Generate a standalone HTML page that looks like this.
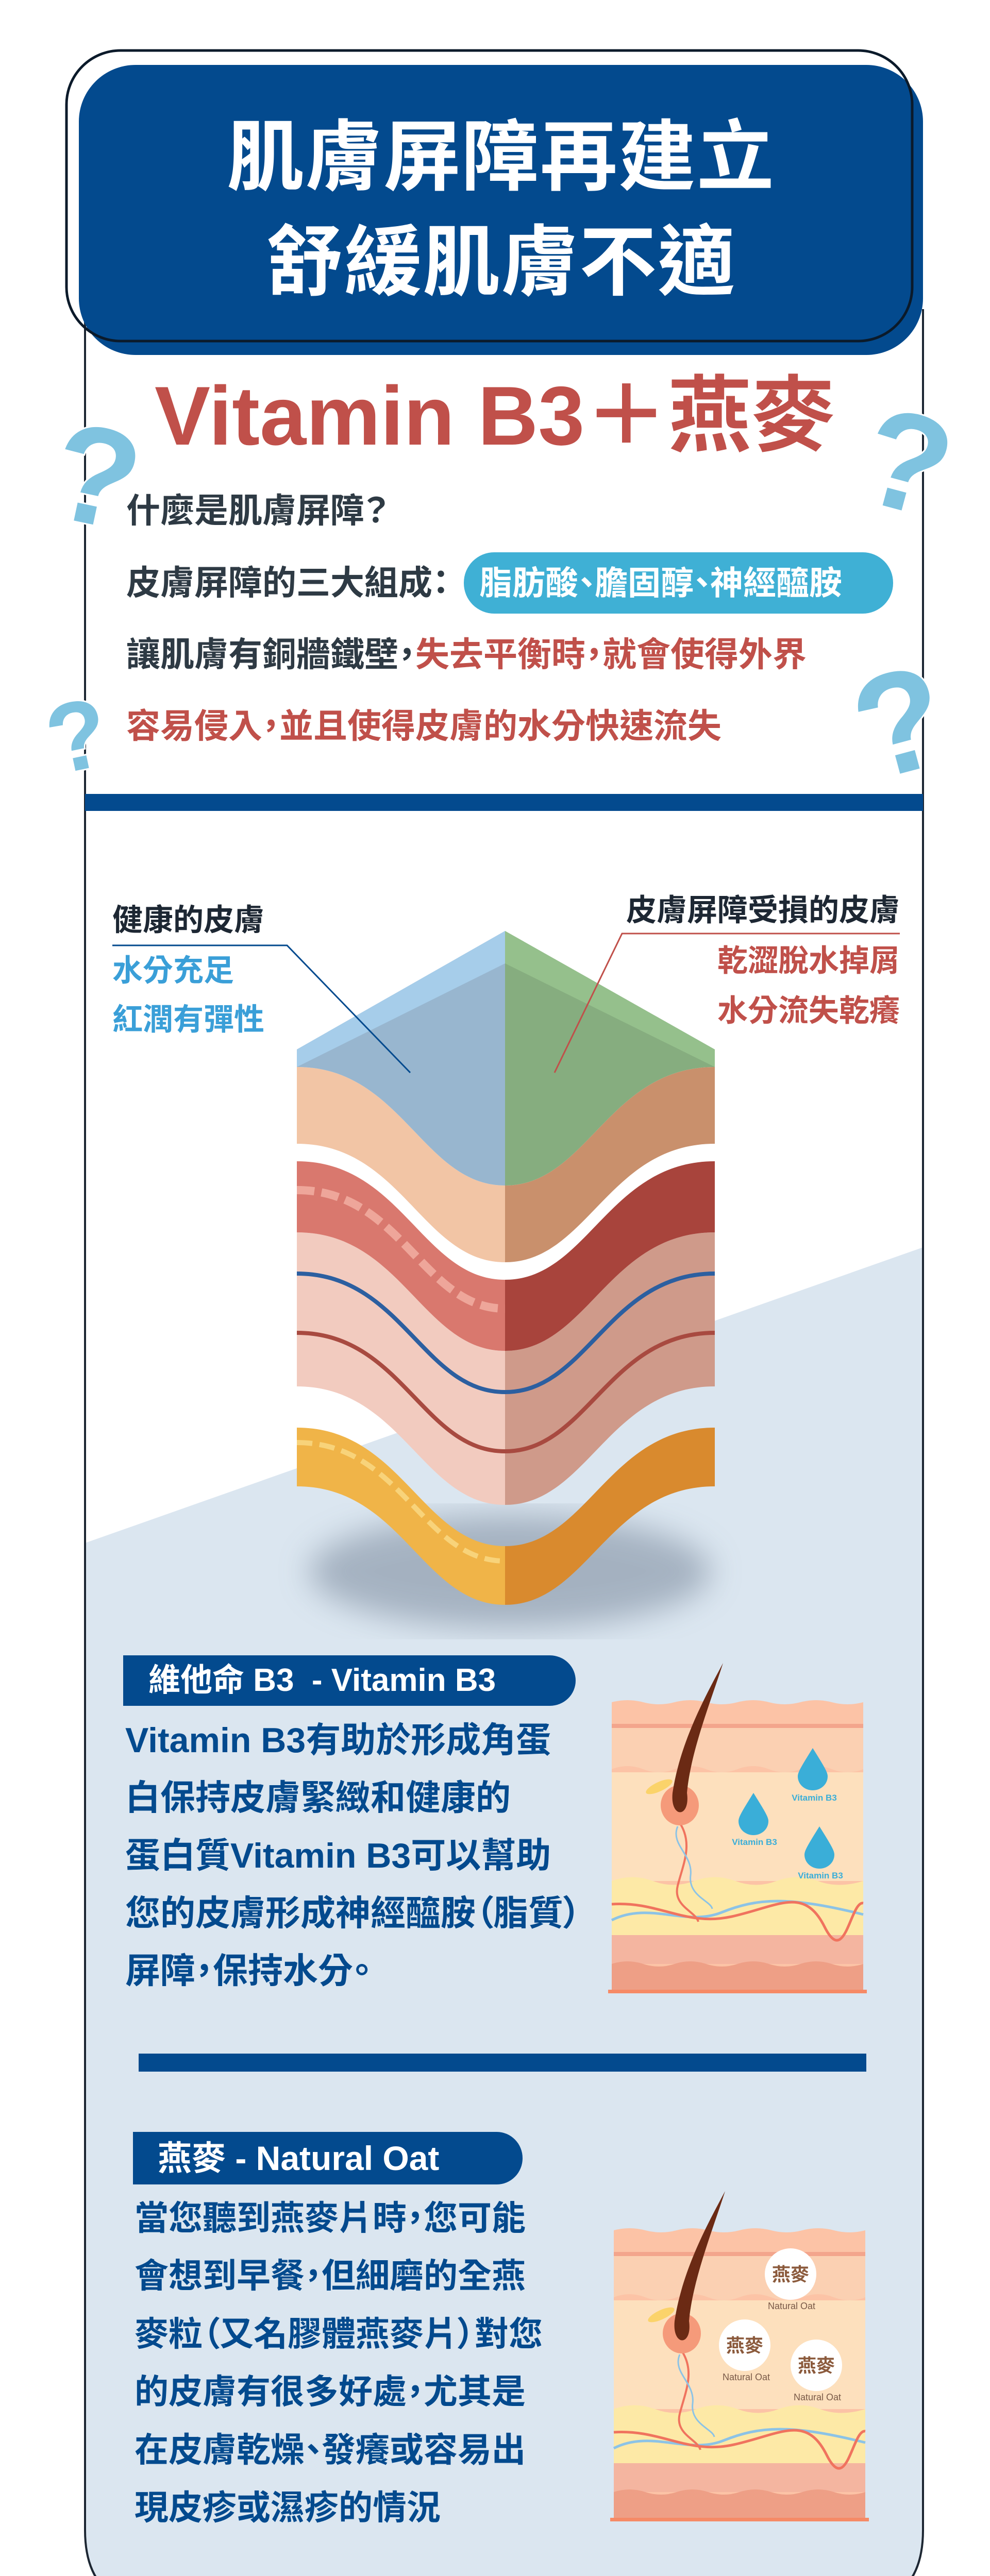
<!DOCTYPE html>
<html><head><meta charset="utf-8">
<style>
html{margin:0;padding:0;width:1921px;height:5162px;overflow:hidden;background:#fff;}
body{margin:0;padding:0;background:#fff;width:1921px;height:5162px;position:relative;overflow:hidden;font-family:"Liberation Sans","Noto Sans CJK TC",sans-serif;}
.t{position:absolute;white-space:nowrap;font-weight:bold;font-feature-settings:"palt";}
svg{position:absolute;left:0;top:0;}
</style></head><body>
<svg width="1921" height="5162" viewBox="0 0 1921 5162">
<defs>
<clipPath id="card"><path d="M165,600 L165,4911 Q165,5061 315,5061 L1641,5061 Q1791,5061 1791,4911 L1791,600 Z"/></clipPath>
<clipPath id="lh"><rect x="560" y="1700" width="420" height="1500"/></clipPath>
<clipPath id="rh"><rect x="980" y="1700" width="420" height="1500"/></clipPath>
<clipPath id="box"><rect x="1180" y="3280" width="502" height="600"/></clipPath>
<filter id="bl"><feGaussianBlur stdDeviation="30"/></filter>
<g id="skin">
 <g clip-path="url(#box)">
 <path d="M1187,3304 q30.5,-8 61,0 t61,0 t61,0 t61,0 t61,0 t61,0 t61,0 t61,0 L1675,3868 L1187,3868 Z" fill="#fcc3a6"/>
 <rect x="1187" y="3346" width="488" height="8" fill="#f3a58c"/>
 <path d="M1187,3354 L1675,3354 L1675,3434 q-30.5,12 -61,0 t-61,0 t-61,0 t-61,0 t-61,0 t-61,0 t-61,0 t-61,0 Z" fill="#fbd0b2"/>
 <rect x="1187" y="3440" width="488" height="211" fill="#fde0bd"/>
 <path d="M1187,3651 q40,-15 80,0 t80,0 t80,0 t80,0 t80,0 t88,0 L1675,3756 L1187,3756 Z" fill="#fde9a6"/>
 <rect x="1187" y="3756" width="488" height="56" fill="#f4b5a0"/>
 <path d="M1187,3812 q30.5,-10 61,0 t61,0 t61,0 t61,0 t61,0 t61,0 t61,0 t61,0 L1675,3862 L1187,3862 Z" fill="#ee9f86"/>
 </g>
 <rect x="1180" y="3862" width="502" height="7" fill="#f68a66"/>
 <path d="M1187,3727 C1260,3690 1330,3740 1400,3712 S1530,3680 1675,3716" stroke="#8cc3e6" stroke-width="5" fill="none"/>
 <path d="M1187,3696 C1280,3690 1330,3740 1420,3720 S1560,3660 1600,3740 S1650,3690 1675,3694" stroke="#f0735e" stroke-width="5" fill="none"/>
 <path d="M1320,3540 C1345,3580 1325,3620 1315,3660 S1350,3710 1355,3730" stroke="#f0735e" stroke-width="4" fill="none"/>
 <path d="M1315,3545 C1300,3580 1345,3600 1340,3640 S1380,3690 1382,3705" stroke="#8cc3e6" stroke-width="3" fill="none"/>
 <ellipse cx="1279" cy="3468" rx="28" ry="9" fill="#fbd36a" transform="rotate(-25 1279 3468)"/>
 <ellipse cx="1319" cy="3504" rx="37" ry="39" fill="#f59a7a"/>
 <path d="M1403,3228 C1370,3290 1320,3380 1305,3480 C1300,3530 1340,3530 1333,3480 C1340,3400 1380,3300 1403,3228Z" fill="#6b2a14"/>
</g>
</defs>

<path d="M165,600 L165,4911 Q165,5061 315,5061 L1641,5061 Q1791,5061 1791,4911 L1791,600 Z" fill="#fff"/>
<polygon points="165,2995 1791,2421 1791,5100 165,5100" fill="#dbe6f0" clip-path="url(#card)"/>
<path d="M165,600 L165,4911 Q165,5061 315,5061 L1641,5061 Q1791,5061 1791,4911 L1791,600" fill="none" stroke="#1d2733" stroke-width="4"/>
<rect x="165" y="1541" width="1626" height="33" fill="#034a8e"/>

<rect x="153" y="126" width="1638" height="563" rx="110" fill="#034a8e"/>
<rect x="129" y="98" width="1641" height="564" rx="105" fill="none" stroke="#0b1a2a" stroke-width="5"/>

<rect x="900" y="1072" width="833" height="119" rx="59" fill="#3fb0d5"/>

<ellipse cx="990" cy="3050" rx="390" ry="110" fill="#8e9cad" opacity="0.7" filter="url(#bl)"/>
<g clip-path="url(#lh)">
 <path d="M576,2771 C780,2771 820,3001 980,3001 C1140,3001 1180,2771 1387,2771 L1387,2885 C1180,2885 1140,3115 980,3115 C820,3115 780,2885 576,2885Z" fill="#f0b448"/>
 <path d="M576,2800 C780,2800 820,3030 980,3030 C1140,3030 1180,2800 1387,2800" stroke="#f8d37a" stroke-width="10" fill="none" stroke-dasharray="30 14"/>
 <path d="M576,2392 C780,2392 820,2622 980,2622 C1140,2622 1180,2392 1387,2392 L1387,2691 C1180,2691 1140,2921 980,2921 C820,2921 780,2691 576,2691Z" fill="#f2cbbf"/>
 <path d="M576,2254 C780,2254 820,2484 980,2484 C1140,2484 1180,2254 1387,2254 L1387,2392 C1180,2392 1140,2622 980,2622 C820,2622 780,2392 576,2392Z" fill="#d9786e"/>
 <path d="M576,2310 C780,2310 820,2540 980,2540 C1140,2540 1180,2310 1387,2310" stroke="#eea69a" stroke-width="16" fill="none" stroke-dasharray="34 14"/>
 <path d="M576,2071 C780,2071 820,2301 980,2301 C1140,2301 1180,2071 1387,2071 L1387,2220 C1180,2220 1140,2450 980,2450 C820,2450 780,2220 576,2220Z" fill="#f2c5a5"/>
 <path d="M576,2037 L980,1807 L1387,2037 L1387,2071 C1180,2071 1140,2301 980,2301 C820,2301 780,2071 576,2071Z" fill="#98b6cf"/>
 <path d="M576,2037 L980,1807 L980,1870 L576,2071Z" fill="#a6cdea"/>
</g>
<g clip-path="url(#rh)">
 <path d="M576,2771 C780,2771 820,3001 980,3001 C1140,3001 1180,2771 1387,2771 L1387,2885 C1180,2885 1140,3115 980,3115 C820,3115 780,2885 576,2885Z" fill="#d98a2e"/>
 <path d="M576,2392 C780,2392 820,2622 980,2622 C1140,2622 1180,2392 1387,2392 L1387,2691 C1180,2691 1140,2921 980,2921 C820,2921 780,2691 576,2691Z" fill="#cf9a8a"/>
 <path d="M576,2254 C780,2254 820,2484 980,2484 C1140,2484 1180,2254 1387,2254 L1387,2392 C1180,2392 1140,2622 980,2622 C820,2622 780,2392 576,2392Z" fill="#a8443c"/>
 <path d="M576,2071 C780,2071 820,2301 980,2301 C1140,2301 1180,2071 1387,2071 L1387,2220 C1180,2220 1140,2450 980,2450 C820,2450 780,2220 576,2220Z" fill="#c9906c"/>
 <path d="M576,2037 L980,1807 L1387,2037 L1387,2071 C1180,2071 1140,2301 980,2301 C820,2301 780,2071 576,2071Z" fill="#86ad7f"/>
 <path d="M980,1807 L1387,2037 L1387,2071 L980,1870Z" fill="#95c08c"/>
</g>
<path d="M576,2472 C780,2472 820,2702 980,2702 C1140,2702 1180,2472 1387,2472" stroke="#2c5fa0" stroke-width="8" fill="none"/>
<path d="M576,2587 C780,2587 820,2817 980,2817 C1140,2817 1180,2587 1387,2587" stroke="#a84a40" stroke-width="8" fill="none"/>

<polyline points="218,1835 557,1835 796,2082" fill="none" stroke="#034a8e" stroke-width="3"/>
<polyline points="1746,1812 1207,1812 1076,2082" fill="none" stroke="#c0504a" stroke-width="3"/>

<path d="M239,3213 L1067,3213 A50,49 0 0 1 1067,3311 L239,3311Z" fill="#034a8e"/>
<rect x="269" y="3986" width="1412" height="35" fill="#034a8e"/>
<path d="M258,4138 L964,4138 A50,51 0 0 1 964,4240 L258,4240Z" fill="#034a8e"/>

<use href="#skin"/>
<g font-family="Liberation Sans, sans-serif" font-weight="bold" font-size="17" fill="#3aaed8" text-anchor="middle">
 <path d="M1577,3393 C1600,3430 1606,3440 1606,3448 A29,27 0 0 1 1548,3448 C1548,3440 1554,3430 1577,3393Z" fill="#3aaed8"/>
 <path d="M1462,3480 C1485,3517 1491,3527 1491,3535 A29,27 0 0 1 1433,3535 C1433,3527 1439,3517 1462,3480Z" fill="#3aaed8"/>
 <path d="M1590,3545 C1613,3582 1619,3592 1619,3600 A29,27 0 0 1 1561,3600 C1561,3592 1567,3582 1590,3545Z" fill="#3aaed8"/>
 <text x="1580" y="3495">Vitamin B3</text>
 <text x="1464" y="3581">Vitamin B3</text>
 <text x="1592" y="3646">Vitamin B3</text>
</g>
<use href="#skin" transform="translate(4,1025)"/>
<g font-family="Liberation Sans, Noto Sans CJK TC, sans-serif" text-anchor="middle">
 <circle cx="1534" cy="4414" r="50" fill="#fff"/>
 <circle cx="1445" cy="4552" r="50" fill="#fff"/>
 <circle cx="1584" cy="4591" r="50" fill="#fff"/>
 <g fill="#8b5a3c" font-weight="bold" font-size="36">
  <text x="1534" y="4427">燕麥</text><text x="1445" y="4565">燕麥</text><text x="1584" y="4604">燕麥</text>
 </g>
 <g fill="#7a5a48" font-size="18">
  <text x="1536" y="4482">Natural Oat</text><text x="1448" y="4620">Natural Oat</text><text x="1586" y="4659">Natural Oat</text>
 </g>
</g>

<path d="M98,5162 L98,5150 Q98,5140 120,5138 L960,5080 Q1063,5072 1063,5140 L1063,5162Z" fill="#c0504a"/>

<g font-family="Liberation Sans, sans-serif" font-weight="bold" fill="#7fc3e0" stroke="#ffffff" stroke-width="6" paint-order="stroke">
 <text x="105" y="1015" font-size="270" transform="rotate(12 175 920)">?</text>
 <text x="1680" y="990" font-size="270" transform="rotate(15 1760 890)">?</text>
 <text x="92" y="1495" font-size="190" transform="rotate(-12 145 1430)">?</text>
 <text x="1660" y="1500" font-size="280" transform="rotate(-15 1740 1400)">?</text>
</g>
</svg>

<div class="t" style="left:153px;width:1638px;top:220px;text-align:center;color:#fff;font-size:150px;line-height:170px;letter-spacing:2px;">肌膚屏障再建立</div>
<div class="t" style="left:153px;width:1638px;top:424px;text-align:center;color:#fff;font-size:150px;line-height:170px;letter-spacing:2px;">舒緩肌膚不適</div>

<div class="t" style="left:300px;top:718px;color:#c0504a;font-size:162px;line-height:180px;">Vitamin B3＋燕麥</div>

<div class="t" style="left:245px;top:951px;color:#2e3a44;font-size:66px;line-height:80px;">什麼是肌膚屏障？</div>
<div class="t" style="left:245px;top:1091px;color:#2e3a44;font-size:66px;line-height:80px;">皮膚屏障的三大組成：</div>
<div class="t" style="left:930px;top:1092px;color:#fff;font-size:64px;line-height:80px;">脂肪酸、膽固醇、神經醯胺</div>
<div class="t" style="left:245px;top:1230px;color:#2e3a44;font-size:66px;line-height:80px;">讓肌膚有銅牆鐵壁，<span style="color:#c0504a">失去平衡時，就會使得外界</span></div>
<div class="t" style="left:245px;top:1369px;color:#c0504a;font-size:66px;line-height:80px;">容易侵入，並且使得皮膚的水分快速流失</div>

<div class="t" style="left:218px;top:1754px;color:#1d2733;font-size:59px;line-height:64px;">健康的皮膚</div>
<div class="t" style="left:218px;top:1852px;color:#3a9fd8;font-size:59px;line-height:64px;">水分充足</div>
<div class="t" style="left:218px;top:1947px;color:#3a9fd8;font-size:59px;line-height:64px;">紅潤有彈性</div>
<div class="t" style="right:175px;top:1735px;color:#1d2733;font-size:59px;line-height:64px;">皮膚屏障受損的皮膚</div>
<div class="t" style="right:175px;top:1833px;color:#c0504a;font-size:59px;line-height:64px;">乾澀脫水掉屑</div>
<div class="t" style="right:175px;top:1930px;color:#c0504a;font-size:59px;line-height:64px;">水分流失乾癢</div>

<div class="t" style="left:288px;top:3226px;color:#fff;font-size:62px;line-height:72px;">維他命 B3&nbsp; - Vitamin B3</div>
<div class="t" style="left:243px;top:3322px;color:#034a8e;font-size:68px;line-height:112px;">Vitamin B3有助於形成角蛋<br>白保持皮膚緊緻和健康的<br>蛋白質Vitamin B3可以幫助<br>您的皮膚形成神經醯胺（脂質）<br>屏障，保持水分。</div>

<div class="t" style="left:306px;top:4153px;color:#fff;font-size:66px;line-height:72px;">燕麥 - Natural Oat</div>
<div class="t" style="left:261px;top:4249px;color:#034a8e;font-size:66px;line-height:112.4px;">當您聽到燕麥片時，您可能<br>會想到早餐，但細磨的全燕<br>麥粒（又名膠體燕麥片）對您<br>的皮膚有很多好處，尤其是<br>在皮膚乾燥、發癢或容易出<br>現皮疹或濕疹的情況</div>
</body></html>
